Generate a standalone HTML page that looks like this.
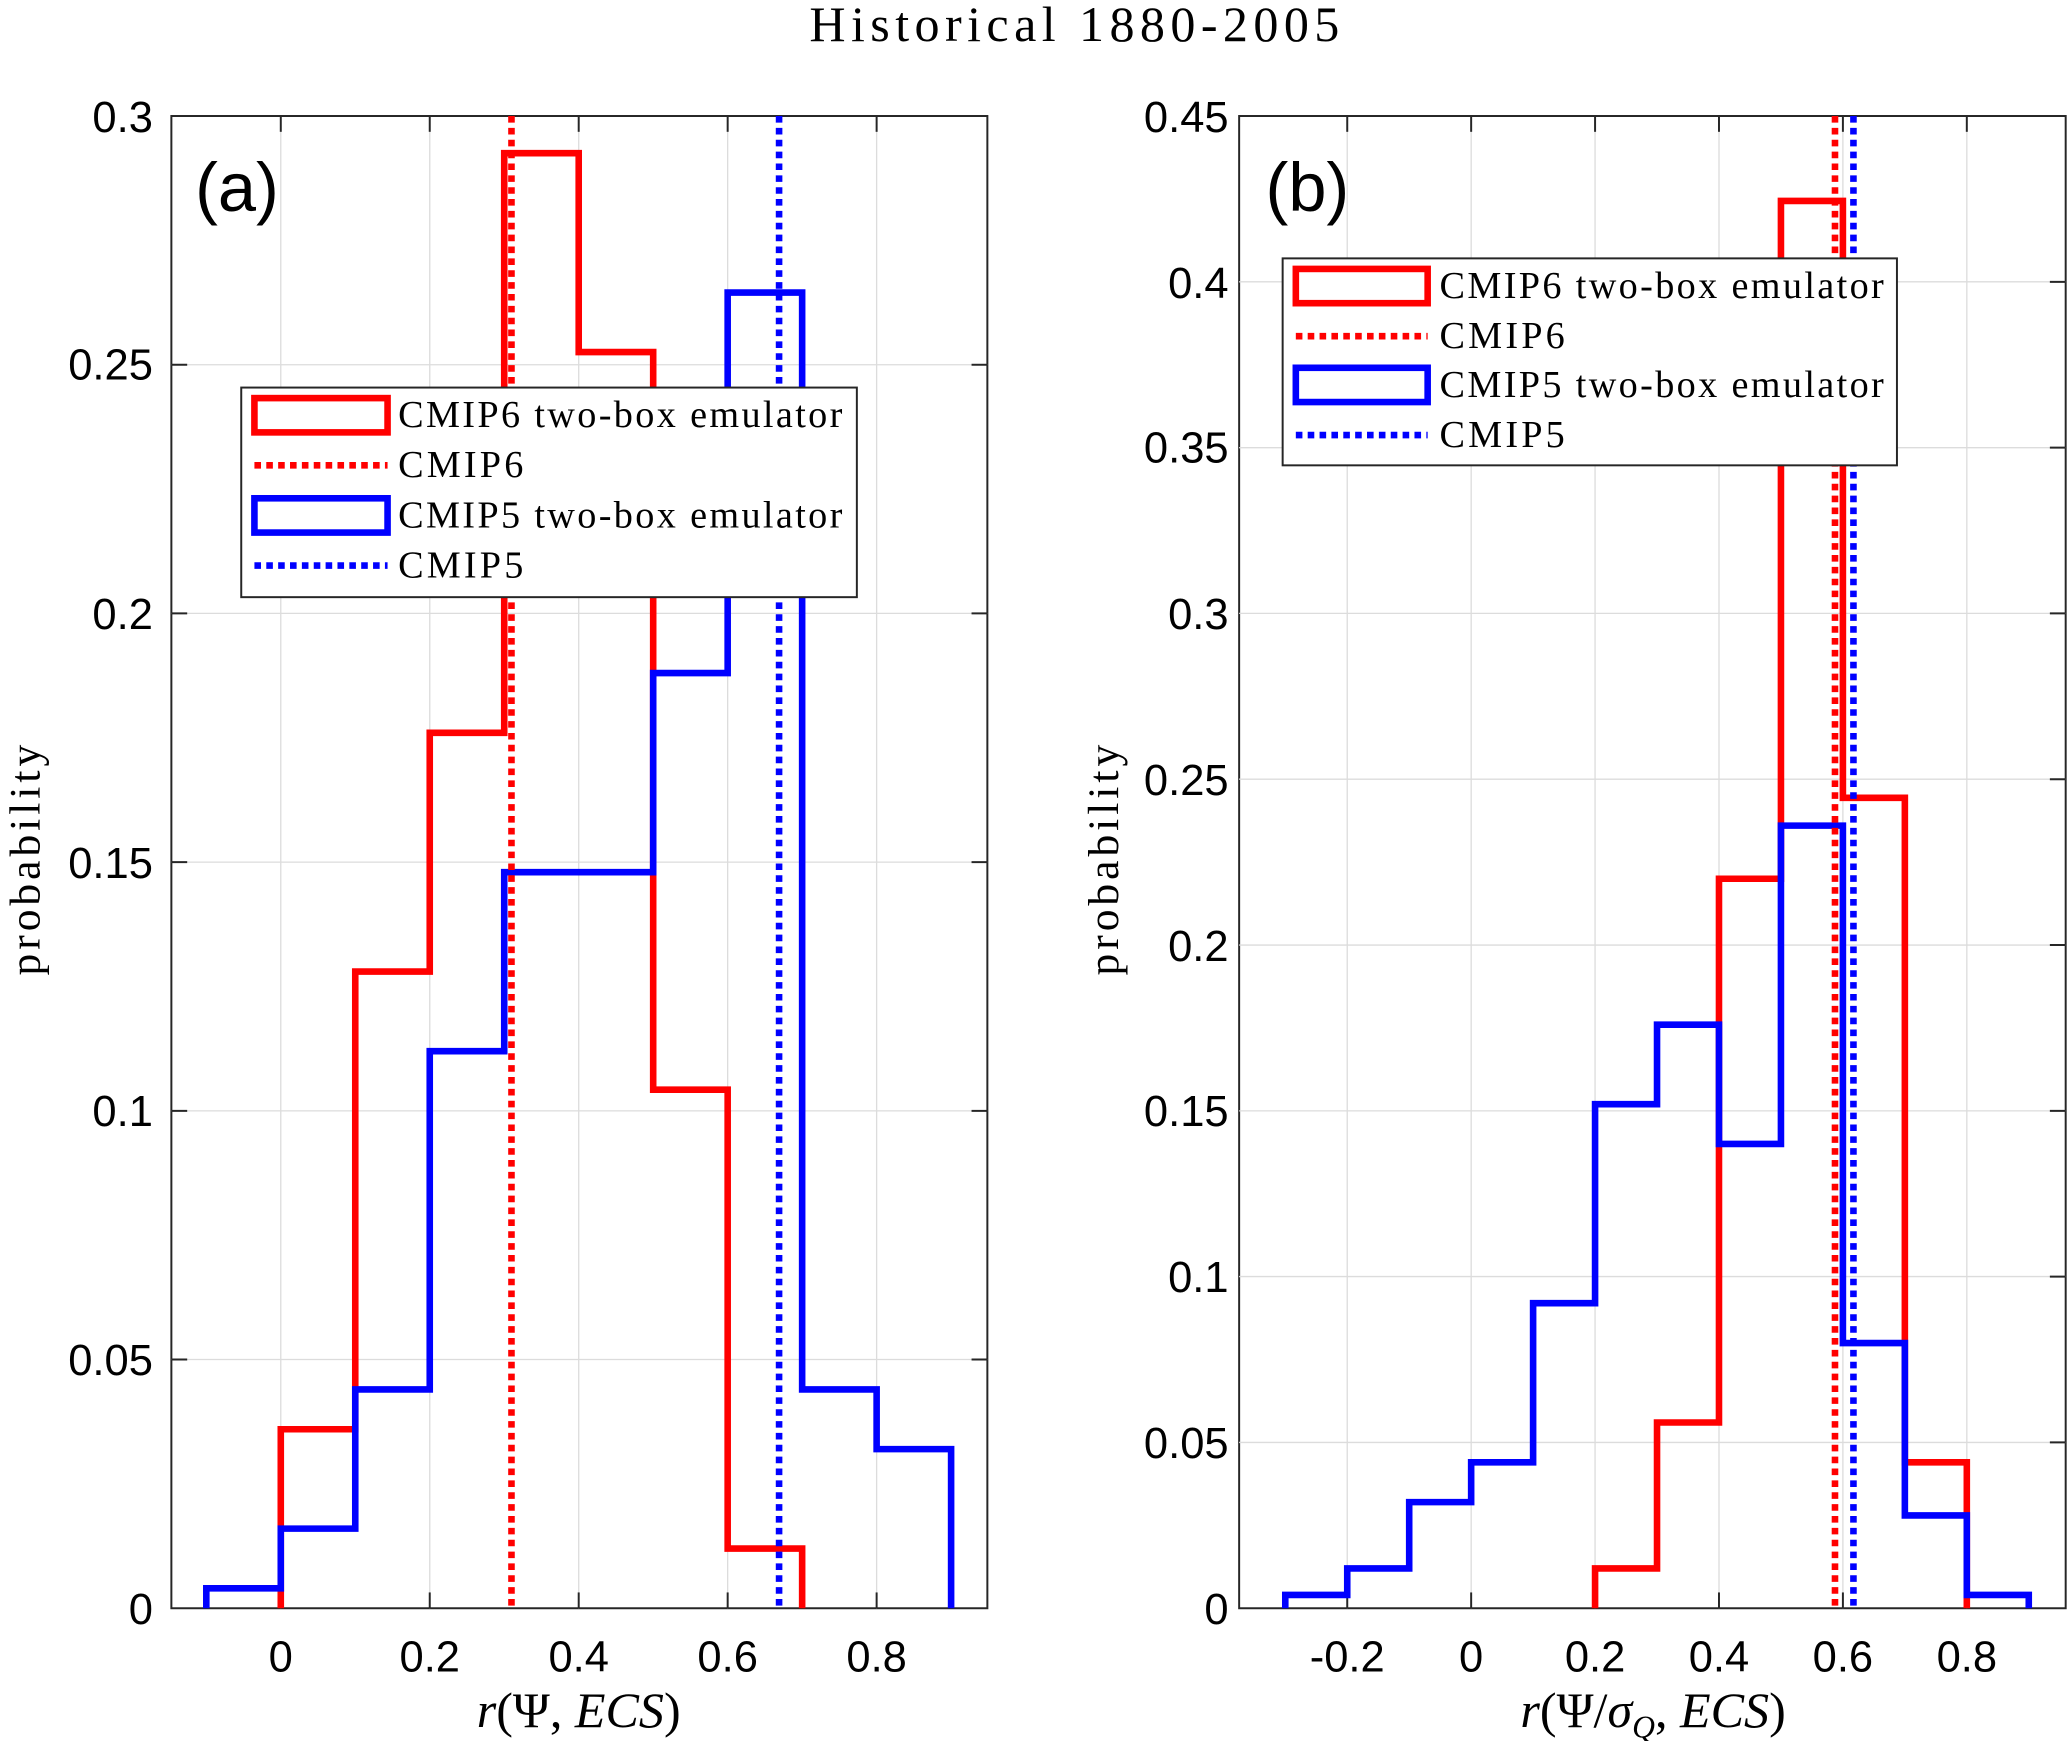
<!DOCTYPE html>
<html><head><style>
html,body{margin:0;padding:0;background:#fff;}
svg{display:block;}
.tk{font-family:"Liberation Sans",sans-serif;font-size:33px;fill:#000;}
.sr{font-family:"Liberation Serif",serif;fill:#000;}
</style></head><body>
<svg width="2067" height="1741" viewBox="0 0 1568 1320.7" xmlns="http://www.w3.org/2000/svg">
<rect width="1568" height="1321" fill="#fff"/>
<text x="614" y="31" class="sr" font-size="38" textLength="402" lengthAdjust="spacing">Historical 1880-2005</text>

<!-- Panel a -->
<g>
<rect x="130" y="88" width="619" height="1132" fill="#fff" stroke="#262626" stroke-width="1.5"/>
<g stroke="#dcdcdc" stroke-width="1">
<line x1="213" y1="88" x2="213" y2="1220"/><line x1="326" y1="88" x2="326" y2="1220"/><line x1="439" y1="88" x2="439" y2="1220"/><line x1="552" y1="88" x2="552" y2="1220"/><line x1="665" y1="88" x2="665" y2="1220"/>
<line x1="130" y1="1031.3" x2="749" y2="1031.3"/><line x1="130" y1="842.7" x2="749" y2="842.7"/><line x1="130" y1="654" x2="749" y2="654"/><line x1="130" y1="465.3" x2="749" y2="465.3"/><line x1="130" y1="276.7" x2="749" y2="276.7"/>
</g>
<g stroke="#262626" stroke-width="1.5">
<line x1="213" y1="1220" x2="213" y2="1208"/><line x1="326" y1="1220" x2="326" y2="1208"/><line x1="439" y1="1220" x2="439" y2="1208"/><line x1="552" y1="1220" x2="552" y2="1208"/><line x1="665" y1="1220" x2="665" y2="1208"/>
<line x1="213" y1="88" x2="213" y2="100"/><line x1="326" y1="88" x2="326" y2="100"/><line x1="439" y1="88" x2="439" y2="100"/><line x1="552" y1="88" x2="552" y2="100"/><line x1="665" y1="88" x2="665" y2="100"/>
<line x1="130" y1="1031.3" x2="142" y2="1031.3"/><line x1="130" y1="842.7" x2="142" y2="842.7"/><line x1="130" y1="654" x2="142" y2="654"/><line x1="130" y1="465.3" x2="142" y2="465.3"/><line x1="130" y1="276.7" x2="142" y2="276.7"/>
<line x1="749" y1="1031.3" x2="737" y2="1031.3"/><line x1="749" y1="842.7" x2="737" y2="842.7"/><line x1="749" y1="654" x2="737" y2="654"/><line x1="749" y1="465.3" x2="737" y2="465.3"/><line x1="749" y1="276.7" x2="737" y2="276.7"/>
</g>
<polyline fill="none" stroke="#ff0000" stroke-width="5" points="213,1220 213,1084.2 269.5,1084.2 269.5,737 326,737 326,555.9 382.5,555.9 382.5,116.2 439,116.2 439,267.1 495.5,267.1 495.5,826.6 552,826.6 552,1174.7 608.5,1174.7 608.5,1220"/>
<polyline fill="none" stroke="#0000ff" stroke-width="5" points="156.5,1220 156.5,1204.9 213,1204.9 213,1159.6 269.5,1159.6 269.5,1054 326,1054 326,797.4 382.5,797.4 382.5,661.6 495.5,661.6 495.5,510.6 552,510.6 552,221.9 608.5,221.9 608.5,1054 665,1054 665,1099.3 721.5,1099.3 721.5,1220"/>
<line x1="388" y1="88" x2="388" y2="1220" stroke="#ff0000" stroke-width="5" stroke-dasharray="5,4"/>
<line x1="591" y1="88" x2="591" y2="1220" stroke="#0000ff" stroke-width="5" stroke-dasharray="5,4"/>
<text x="148" y="160" font-family="Liberation Sans,sans-serif" font-size="52">(a)</text>
<rect x="183" y="294" width="467" height="159" fill="#fff" stroke="#262626" stroke-width="1.5"/>
<rect x="193" y="302" width="101" height="26" fill="none" stroke="#ff0000" stroke-width="5"/>
<line x1="193" y1="353" x2="294" y2="353" stroke="#ff0000" stroke-width="5" stroke-dasharray="5,4"/>
<rect x="193" y="378" width="101" height="26" fill="none" stroke="#0000ff" stroke-width="5"/>
<line x1="193" y1="429" x2="294" y2="429" stroke="#0000ff" stroke-width="5" stroke-dasharray="5,4"/>
<g class="sr" font-size="29"><text x="302" y="324" textLength="337" lengthAdjust="spacing">CMIP6 two-box emulator</text><text x="302" y="362" textLength="95" lengthAdjust="spacing">CMIP6</text><text x="302" y="400" textLength="337" lengthAdjust="spacing">CMIP5 two-box emulator</text><text x="302" y="438" textLength="95" lengthAdjust="spacing">CMIP5</text></g>
<g class="tk" text-anchor="end"><text x="116" y="1232">0</text><text x="116" y="1043">0.05</text><text x="116" y="854">0.1</text><text x="116" y="666">0.15</text><text x="116" y="477">0.2</text><text x="116" y="288">0.25</text><text x="116" y="100">0.3</text></g>
<g class="tk" text-anchor="middle"><text x="213" y="1268">0</text><text x="326" y="1268">0.2</text><text x="439" y="1268">0.4</text><text x="552" y="1268">0.6</text><text x="665" y="1268">0.8</text></g>
<text transform="translate(30,740) rotate(-90)" class="sr" font-size="33" textLength="175" lengthAdjust="spacing">probability</text>
<text x="439" y="1310" class="sr" font-size="38" text-anchor="middle"><tspan font-style="italic">r</tspan>(Ψ, <tspan font-style="italic">ECS</tspan>)</text>
</g>

<!-- Panel b -->
<g>
<rect x="940" y="88" width="627" height="1132" fill="#fff" stroke="#262626" stroke-width="1.5"/>
<g stroke="#dcdcdc" stroke-width="1">
<line x1="1022" y1="88" x2="1022" y2="1220"/><line x1="1116" y1="88" x2="1116" y2="1220"/><line x1="1210" y1="88" x2="1210" y2="1220"/><line x1="1304" y1="88" x2="1304" y2="1220"/><line x1="1398" y1="88" x2="1398" y2="1220"/><line x1="1492" y1="88" x2="1492" y2="1220"/>
<line x1="940" y1="1094.2" x2="1567" y2="1094.2"/><line x1="940" y1="968.4" x2="1567" y2="968.4"/><line x1="940" y1="842.7" x2="1567" y2="842.7"/><line x1="940" y1="716.9" x2="1567" y2="716.9"/><line x1="940" y1="591.1" x2="1567" y2="591.1"/><line x1="940" y1="465.3" x2="1567" y2="465.3"/><line x1="940" y1="339.6" x2="1567" y2="339.6"/><line x1="940" y1="213.8" x2="1567" y2="213.8"/>
</g>
<g stroke="#262626" stroke-width="1.5">
<line x1="1022" y1="1220" x2="1022" y2="1208"/><line x1="1116" y1="1220" x2="1116" y2="1208"/><line x1="1210" y1="1220" x2="1210" y2="1208"/><line x1="1304" y1="1220" x2="1304" y2="1208"/><line x1="1398" y1="1220" x2="1398" y2="1208"/><line x1="1492" y1="1220" x2="1492" y2="1208"/>
<line x1="1022" y1="88" x2="1022" y2="100"/><line x1="1116" y1="88" x2="1116" y2="100"/><line x1="1210" y1="88" x2="1210" y2="100"/><line x1="1304" y1="88" x2="1304" y2="100"/><line x1="1398" y1="88" x2="1398" y2="100"/><line x1="1492" y1="88" x2="1492" y2="100"/>
<line x1="1567" y1="1094.2" x2="1555" y2="1094.2"/><line x1="1567" y1="968.4" x2="1555" y2="968.4"/><line x1="1567" y1="842.7" x2="1555" y2="842.7"/><line x1="1567" y1="716.9" x2="1555" y2="716.9"/><line x1="1567" y1="591.1" x2="1555" y2="591.1"/><line x1="1567" y1="465.3" x2="1555" y2="465.3"/><line x1="1567" y1="339.6" x2="1555" y2="339.6"/><line x1="1567" y1="213.8" x2="1555" y2="213.8"/>
</g>
<polyline fill="none" stroke="#ff0000" stroke-width="5" points="1210,1220 1210,1189.8 1257,1189.8 1257,1079.1 1304,1079.1 1304,666.6 1351,666.6 1351,152.4 1398,152.4 1398,605.2 1445,605.2 1445,1109.3 1492,1109.3 1492,1220"/>
<polyline fill="none" stroke="#0000ff" stroke-width="5" points="975,1220 975,1209.9 1022,1209.9 1022,1189.8 1069,1189.8 1069,1139.5 1116,1139.5 1116,1109.3 1163,1109.3 1163,988.6 1210,988.6 1210,837.6 1257,837.6 1257,777.3 1304,777.3 1304,867.8 1351,867.8 1351,626.3 1398,626.3 1398,1018.8 1445,1018.8 1445,1149.6 1492,1149.6 1492,1209.9 1539,1209.9 1539,1220"/>
<line x1="1392" y1="88" x2="1392" y2="1220" stroke="#ff0000" stroke-width="5" stroke-dasharray="5,4"/>
<line x1="1406" y1="88" x2="1406" y2="1220" stroke="#0000ff" stroke-width="5" stroke-dasharray="5,4"/>
<text x="960" y="160" font-family="Liberation Sans,sans-serif" font-size="52">(b)</text>
<rect x="973" y="196" width="466" height="157" fill="#fff" stroke="#262626" stroke-width="1.5"/>
<rect x="983" y="204" width="100" height="26" fill="none" stroke="#ff0000" stroke-width="5"/>
<line x1="983" y1="255" x2="1083" y2="255" stroke="#ff0000" stroke-width="5" stroke-dasharray="5,4"/>
<rect x="983" y="279" width="100" height="26" fill="none" stroke="#0000ff" stroke-width="5"/>
<line x1="983" y1="330" x2="1083" y2="330" stroke="#0000ff" stroke-width="5" stroke-dasharray="5,4"/>
<g class="sr" font-size="29"><text x="1092" y="226" textLength="337" lengthAdjust="spacing">CMIP6 two-box emulator</text><text x="1092" y="264" textLength="95" lengthAdjust="spacing">CMIP6</text><text x="1092" y="301" textLength="337" lengthAdjust="spacing">CMIP5 two-box emulator</text><text x="1092" y="339" textLength="95" lengthAdjust="spacing">CMIP5</text></g>
<g class="tk" text-anchor="end"><text x="932" y="1232">0</text><text x="932" y="1106">0.05</text><text x="932" y="980">0.1</text><text x="932" y="854">0.15</text><text x="932" y="729">0.2</text><text x="932" y="603">0.25</text><text x="932" y="477">0.3</text><text x="932" y="351">0.35</text><text x="932" y="226">0.4</text><text x="932" y="100">0.45</text></g>
<g class="tk" text-anchor="middle"><text x="1022" y="1268">-0.2</text><text x="1116" y="1268">0</text><text x="1210" y="1268">0.2</text><text x="1304" y="1268">0.4</text><text x="1398" y="1268">0.6</text><text x="1492" y="1268">0.8</text></g>
<text transform="translate(848,740) rotate(-90)" class="sr" font-size="33" textLength="175" lengthAdjust="spacing">probability</text>
<text x="1254" y="1310" class="sr" font-size="38" text-anchor="middle"><tspan font-style="italic">r</tspan>(Ψ/<tspan font-style="italic">σ</tspan><tspan font-style="italic" font-size="24" dy="8">Q</tspan><tspan dy="-8">, </tspan><tspan font-style="italic">ECS</tspan>)</text>
</g>
</svg>
</body></html>
